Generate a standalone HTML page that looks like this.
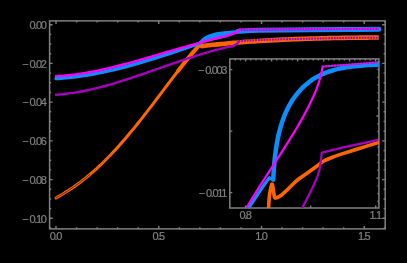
<!DOCTYPE html>
<html><head><meta charset="utf-8"><style>
html,body{margin:0;padding:0;background:#000;}
body{width:407px;height:263px;overflow:hidden;}
svg{display:block;will-change:transform;}
.lab{font-family:"Liberation Sans",sans-serif;font-size:11px;fill:#808080;stroke:#808080;stroke-width:0.2px;letter-spacing:-1.35px;word-spacing:0px;}
</style></head><body>
<svg width="407" height="263" viewBox="0 0 407 263">
<rect width="407" height="263" fill="#000"/>
<rect x="49.6" y="20.9" width="335.6" height="208.0" fill="none" stroke="#808080" stroke-width="1.5"/>
<path d="M56.00 228.90 V225.90 M56.00 20.90 V23.90 M76.55 228.90 V227.30 M76.55 20.90 V22.50 M97.10 228.90 V227.30 M97.10 20.90 V22.50 M117.65 228.90 V227.30 M117.65 20.90 V22.50 M138.20 228.90 V227.30 M138.20 20.90 V22.50 M158.75 228.90 V225.90 M158.75 20.90 V23.90 M179.30 228.90 V227.30 M179.30 20.90 V22.50 M199.85 228.90 V227.30 M199.85 20.90 V22.50 M220.40 228.90 V227.30 M220.40 20.90 V22.50 M240.95 228.90 V227.30 M240.95 20.90 V22.50 M261.50 228.90 V225.90 M261.50 20.90 V23.90 M282.05 228.90 V227.30 M282.05 20.90 V22.50 M302.60 228.90 V227.30 M302.60 20.90 V22.50 M323.15 228.90 V227.30 M323.15 20.90 V22.50 M343.70 228.90 V227.30 M343.70 20.90 V22.50 M364.25 228.90 V225.90 M364.25 20.90 V23.90 M384.80 228.90 V227.30 M384.80 20.90 V22.50 M49.60 24.70 H52.60 M385.20 24.70 H382.20 M49.60 34.38 H51.20 M385.20 34.38 H383.60 M49.60 44.06 H51.20 M385.20 44.06 H383.60 M49.60 53.74 H51.20 M385.20 53.74 H383.60 M49.60 63.42 H52.60 M385.20 63.42 H382.20 M49.60 73.10 H51.20 M385.20 73.10 H383.60 M49.60 82.78 H51.20 M385.20 82.78 H383.60 M49.60 92.46 H51.20 M385.20 92.46 H383.60 M49.60 102.14 H52.60 M385.20 102.14 H382.20 M49.60 111.82 H51.20 M385.20 111.82 H383.60 M49.60 121.50 H51.20 M385.20 121.50 H383.60 M49.60 131.18 H51.20 M385.20 131.18 H383.60 M49.60 140.86 H52.60 M385.20 140.86 H382.20 M49.60 150.54 H51.20 M385.20 150.54 H383.60 M49.60 160.22 H51.20 M385.20 160.22 H383.60 M49.60 169.90 H51.20 M385.20 169.90 H383.60 M49.60 179.58 H52.60 M385.20 179.58 H382.20 M49.60 189.26 H51.20 M385.20 189.26 H383.60 M49.60 198.94 H51.20 M385.20 198.94 H383.60 M49.60 208.62 H51.20 M385.20 208.62 H383.60 M49.60 218.30 H52.60 M385.20 218.30 H382.20 M49.60 227.98 H51.20 M385.20 227.98 H383.60" stroke="#808080" stroke-width="1.4" fill="none"/>
<text x="45.6" y="28.90" class="lab" text-anchor="end">0.00</text>
<text x="45.6" y="67.62" class="lab" text-anchor="end">−<tspan dx="2.2">0.02</tspan></text>
<text x="45.6" y="106.34" class="lab" text-anchor="end">−<tspan dx="2.2">0.04</tspan></text>
<text x="45.6" y="145.06" class="lab" text-anchor="end">−<tspan dx="2.2">0.06</tspan></text>
<text x="45.6" y="183.78" class="lab" text-anchor="end">−<tspan dx="2.2">0.08</tspan></text>
<text x="45.6" y="222.50" class="lab" text-anchor="end">−<tspan dx="2.2">0.10</tspan></text>
<text x="55.40" y="239.6" class="lab" text-anchor="middle">0.0</text>
<text x="158.15" y="239.6" class="lab" text-anchor="middle">0.5</text>
<text x="260.90" y="239.6" class="lab" text-anchor="middle">1.0</text>
<text x="363.65" y="239.6" class="lab" text-anchor="middle">1.5</text>
<g fill="none" stroke-linecap="round" stroke-linejoin="round">
<path d="M56.00 197.94 C56.62 197.59 58.46 196.56 59.70 195.85 C60.93 195.14 62.16 194.41 63.39 193.66 C64.63 192.91 65.86 192.15 67.09 191.36 C68.32 190.58 69.56 189.77 70.79 188.95 C72.02 188.12 73.25 187.28 74.49 186.41 C75.72 185.55 76.95 184.66 78.18 183.76 C79.42 182.85 80.65 181.92 81.88 180.97 C83.11 180.02 84.35 179.05 85.58 178.05 C86.81 177.06 88.04 176.04 89.28 175.01 C90.51 173.97 91.74 172.91 92.97 171.83 C94.21 170.75 95.44 169.64 96.67 168.52 C97.90 167.39 99.14 166.24 100.37 165.07 C101.60 163.90 102.83 162.71 104.07 161.50 C105.30 160.28 106.53 159.05 107.76 157.79 C109.00 156.54 110.23 155.26 111.46 153.97 C112.69 152.67 113.93 151.35 115.16 150.01 C116.39 148.68 117.62 147.32 118.86 145.94 C120.09 144.57 121.32 143.17 122.55 141.76 C123.79 140.35 125.02 138.92 126.25 137.47 C127.48 136.02 128.72 134.56 129.95 133.08 C131.18 131.60 132.41 130.10 133.65 128.59 C134.88 127.08 136.11 125.55 137.34 124.02 C138.58 122.48 139.81 120.93 141.04 119.37 C142.27 117.80 143.51 116.23 144.74 114.65 C145.97 113.06 147.20 111.47 148.44 109.87 C149.67 108.27 150.90 106.66 152.13 105.04 C153.37 103.43 154.60 101.80 155.83 100.18 C157.06 98.55 158.30 96.92 159.53 95.29 C160.76 93.66 161.99 92.03 163.23 90.40 C164.46 88.76 165.69 87.13 166.92 85.50 C168.16 83.87 169.39 82.24 170.62 80.62 C171.85 79.00 173.09 77.39 174.32 75.78 C175.55 74.17 176.78 72.57 178.02 70.98 C179.25 69.40 180.48 67.82 181.71 66.25 C182.95 64.69 184.18 63.14 185.41 61.60 C186.64 60.07 187.88 58.55 189.11 57.06 C190.34 55.56 191.57 54.08 192.81 52.63 C194.04 51.17 195.27 49.74 196.50 48.34 C197.74 46.93 199.58 44.89 200.20 44.21" stroke="#ff6600" stroke-width="3.0"/>
<path d="M178.02 70.98 C178.63 70.20 180.48 67.82 181.71 66.25 C182.95 64.69 184.18 63.14 185.41 61.60 C186.64 60.07 187.88 58.55 189.11 57.06 C190.34 55.56 191.57 54.08 192.81 52.63 C194.04 51.17 195.27 49.74 196.50 48.34 C197.74 46.93 199.58 44.89 200.20 44.21" stroke="#ff6600" stroke-width="4.0"/>
<path d="M56.00 197.94 C56.62 197.59 58.46 196.56 59.70 195.85 C60.93 195.14 62.16 194.41 63.39 193.66 C64.63 192.91 65.86 192.15 67.09 191.36 C68.32 190.58 69.56 189.77 70.79 188.95 C72.02 188.12 73.25 187.28 74.49 186.41 C75.72 185.55 76.95 184.66 78.18 183.76 C79.42 182.85 80.65 181.92 81.88 180.97 C83.11 180.02 84.35 179.05 85.58 178.05 C86.81 177.06 88.66 175.51 89.28 175.01" stroke="#000" stroke-width="0.8" stroke-dasharray="2.2 0.8" opacity="0.75"/>
<path d="M89.28 175.01 C89.89 174.48 91.74 172.91 92.97 171.83 C94.21 170.75 95.44 169.64 96.67 168.52 C97.90 167.39 99.14 166.24 100.37 165.07 C101.60 163.90 102.83 162.71 104.07 161.50 C105.30 160.28 106.53 159.05 107.76 157.79 C109.00 156.54 110.85 154.60 111.46 153.97" stroke="#000" stroke-width="0.6" stroke-dasharray="1.2 2.5" opacity="0.5"/>
<path d="M200.20 43.60 C200.50 44.00 201.70 45.59 202.00 46.00 C202.30 46.41 201.25 46.14 202.00 46.06 C202.76 45.99 205.01 45.72 206.52 45.55 C208.02 45.38 209.53 45.22 211.03 45.06 C212.54 44.90 214.05 44.74 215.55 44.59 C217.06 44.43 218.56 44.28 220.07 44.13 C221.58 43.99 223.08 43.84 224.59 43.70 C226.10 43.56 227.61 43.42 229.11 43.29 C230.62 43.15 232.13 43.02 233.64 42.89 C235.15 42.77 236.65 42.64 238.16 42.52 C239.67 42.40 241.18 42.28 242.69 42.16 C244.20 42.04 245.71 41.93 247.22 41.82 C248.72 41.71 250.23 41.60 251.74 41.49 C253.25 41.39 254.76 41.29 256.27 41.19 C257.78 41.09 259.29 40.99 260.80 40.89 C262.31 40.80 263.82 40.71 265.34 40.62 C266.85 40.53 268.36 40.44 269.87 40.36 C271.38 40.27 272.89 40.19 274.40 40.11 C275.91 40.03 277.42 39.95 278.94 39.88 C280.45 39.80 281.96 39.73 283.47 39.66 C284.98 39.59 286.49 39.52 288.01 39.46 C289.52 39.39 291.03 39.33 292.54 39.26 C294.05 39.20 295.57 39.14 297.08 39.08 C298.59 39.03 300.10 38.97 301.62 38.92 C303.13 38.86 304.64 38.81 306.16 38.76 C307.67 38.71 309.18 38.66 310.69 38.62 C312.21 38.57 313.72 38.53 315.23 38.48 C316.75 38.44 318.26 38.40 319.77 38.36 C321.29 38.32 322.80 38.28 324.31 38.25 C325.83 38.21 327.34 38.18 328.85 38.15 C330.37 38.11 331.88 38.08 333.39 38.05 C334.91 38.02 336.42 37.99 337.93 37.96 C339.45 37.94 340.96 37.91 342.47 37.89 C343.99 37.86 345.50 37.84 347.02 37.82 C348.53 37.80 350.04 37.77 351.56 37.75 C353.07 37.74 354.58 37.72 356.10 37.70 C357.61 37.68 359.12 37.67 360.64 37.65 C362.15 37.63 363.67 37.62 365.18 37.61 C366.69 37.59 368.21 37.58 369.72 37.57 C371.23 37.56 372.75 37.55 374.26 37.54 C375.77 37.53 378.04 37.51 378.80 37.51" stroke="#ff6600" stroke-width="4.6" stroke-linecap="butt"/>
<path d="M56.00 94.71 C56.85 94.65 59.38 94.48 61.07 94.32 C62.77 94.17 64.46 93.99 66.15 93.79 C67.84 93.60 69.53 93.38 71.22 93.14 C72.91 92.90 74.61 92.63 76.30 92.35 C77.99 92.08 79.68 91.77 81.37 91.46 C83.06 91.14 84.75 90.80 86.45 90.45 C88.14 90.10 89.83 89.73 91.52 89.34 C93.21 88.96 94.90 88.56 96.59 88.14 C98.29 87.73 99.98 87.30 101.67 86.85 C103.36 86.41 105.05 85.95 106.74 85.48 C108.43 85.02 110.13 84.53 111.82 84.04 C113.51 83.55 115.20 83.05 116.89 82.53 C118.58 82.02 120.27 81.50 121.97 80.96 C123.66 80.43 125.35 79.89 127.04 79.34 C128.73 78.80 130.42 78.24 132.11 77.68 C133.81 77.12 135.50 76.55 137.19 75.98 C138.88 75.40 140.57 74.82 142.26 74.24 C143.95 73.66 145.65 73.07 147.34 72.49 C149.03 71.90 150.72 71.31 152.41 70.71 C154.10 70.12 155.79 69.52 157.49 68.93 C159.18 68.33 160.87 67.74 162.56 67.14 C164.25 66.55 165.94 65.95 167.63 65.36 C169.33 64.77 171.02 64.18 172.71 63.59 C174.40 63.01 176.09 62.42 177.78 61.84 C179.47 61.26 181.17 60.69 182.86 60.12 C184.55 59.55 186.24 58.98 187.93 58.43 C189.62 57.87 191.31 57.32 193.01 56.78 C194.70 56.23 196.39 55.70 198.08 55.17 C199.77 54.65 201.46 54.13 203.15 53.62 C204.85 53.12 206.54 52.62 208.23 52.13 C209.92 51.65 211.61 51.18 213.30 50.71 C214.99 50.25 216.69 49.80 218.38 49.37 C220.07 48.94 221.76 48.51 223.45 48.11 C225.14 47.70 226.83 47.31 228.53 46.94 C230.22 46.56 232.12 46.45 233.60 45.86 C235.08 45.27 236.55 44.14 237.40 43.40 C238.25 42.66 238.48 41.73 238.70 41.40" stroke="#a800c0" stroke-width="2.4"/>
<path d="M238.50 41.10 C241.92 40.92 246.92 40.42 259.00 40.00 C271.08 39.58 296.17 38.95 311.00 38.60 C325.83 38.25 336.70 38.05 348.00 37.90 C359.30 37.75 373.67 37.73 378.80 37.70" stroke="#a800c0" stroke-width="2.1" stroke-dasharray="1.9 0.9" stroke-linecap="butt"/>
<path d="M56.00 78.46 C56.83 78.42 59.31 78.29 60.97 78.18 C62.62 78.07 64.28 77.94 65.93 77.79 C67.59 77.65 69.24 77.49 70.90 77.31 C72.55 77.14 74.21 76.95 75.86 76.74 C77.52 76.53 79.17 76.31 80.83 76.08 C82.48 75.84 84.14 75.60 85.79 75.33 C87.45 75.07 89.10 74.79 90.76 74.51 C92.41 74.22 94.07 73.91 95.72 73.60 C97.38 73.29 99.03 72.96 100.69 72.62 C102.34 72.29 104.00 71.94 105.66 71.57 C107.31 71.21 108.97 70.84 110.62 70.46 C112.28 70.08 113.93 69.69 115.59 69.28 C117.24 68.88 118.90 68.47 120.55 68.05 C122.21 67.63 123.86 67.20 125.52 66.76 C127.17 66.32 128.83 65.87 130.48 65.42 C132.14 64.96 133.79 64.50 135.45 64.03 C137.10 63.56 138.76 63.08 140.41 62.59 C142.07 62.11 143.72 61.62 145.38 61.12 C147.03 60.62 148.69 60.12 150.34 59.61 C152.00 59.10 153.66 58.59 155.31 58.07 C156.97 57.55 158.62 57.02 160.28 56.50 C161.93 55.97 163.59 55.44 165.24 54.90 C166.90 54.37 168.55 53.83 170.21 53.28 C171.86 52.74 173.52 52.20 175.17 51.65 C176.83 51.10 178.48 50.55 180.14 50.00 C181.79 49.45 183.45 48.89 185.10 48.34 C186.76 47.78 188.41 47.23 190.07 46.67 C191.72 46.12 193.38 45.56 195.03 45.00 C196.69 44.45 199.17 43.61 200.00 43.34" stroke="#0c8eff" stroke-width="3.4"/>
<path d="M200.00 42.40 C200.33 42.03 201.33 40.85 202.00 40.20 C202.67 39.55 203.17 39.10 204.00 38.50 C204.83 37.90 206.00 37.13 207.00 36.60 C208.00 36.07 208.83 35.70 210.00 35.30 C211.17 34.90 212.67 34.53 214.00 34.20 C215.33 33.87 216.33 33.58 218.00 33.30 C219.67 33.02 222.00 32.73 224.00 32.50 C226.00 32.27 227.67 32.08 230.00 31.90 C232.33 31.72 236.67 31.48 238.00 31.40 L239.50 29.80 L238.40 31.20 L236.40 32.40 L230.30 34.60 L225.00 36.40 L212.00 39.40 L200.00 42.89 Z" fill="#0c8eff" stroke="#0c8eff" stroke-width="2.4"/>
<path d="M238.00 31.40 C239.00 31.33 240.50 31.18 244.00 31.00 C247.50 30.82 247.83 30.50 259.00 30.30 C270.17 30.10 296.17 29.93 311.00 29.80 C325.83 29.67 336.70 29.58 348.00 29.50 C359.30 29.42 373.67 29.33 378.80 29.30" stroke="#0c8eff" stroke-width="5.0"/>
<path d="M56.00 76.11 C56.83 76.06 59.31 75.94 60.97 75.83 C62.62 75.72 64.28 75.59 65.93 75.44 C67.59 75.29 69.24 75.13 70.90 74.94 C72.55 74.76 74.21 74.56 75.86 74.34 C77.52 74.12 79.17 73.89 80.83 73.64 C82.48 73.39 84.14 73.12 85.79 72.85 C87.45 72.57 89.10 72.27 90.76 71.97 C92.41 71.66 94.07 71.34 95.72 71.01 C97.38 70.67 99.03 70.33 100.69 69.97 C102.34 69.62 104.00 69.25 105.66 68.87 C107.31 68.49 108.97 68.11 110.62 67.71 C112.28 67.31 113.93 66.90 115.59 66.49 C117.24 66.07 118.90 65.65 120.55 65.22 C122.21 64.79 123.86 64.35 125.52 63.90 C127.17 63.46 128.83 63.01 130.48 62.55 C132.14 62.09 133.79 61.63 135.45 61.17 C137.10 60.70 138.76 60.23 140.41 59.75 C142.07 59.28 143.72 58.80 145.38 58.32 C147.03 57.84 148.69 57.36 150.34 56.87 C152.00 56.39 153.66 55.90 155.31 55.42 C156.97 54.93 158.62 54.44 160.28 53.96 C161.93 53.47 163.59 52.98 165.24 52.50 C166.90 52.02 168.55 51.53 170.21 51.05 C171.86 50.57 173.52 50.10 175.17 49.62 C176.83 49.15 178.48 48.68 180.14 48.21 C181.79 47.74 183.45 47.28 185.10 46.83 C186.76 46.37 188.41 45.92 190.07 45.48 C191.72 45.03 193.38 44.59 195.03 44.16 C196.69 43.73 197.17 43.69 200.00 42.89 C202.83 42.10 207.83 40.48 212.00 39.40 C216.17 38.32 221.95 37.20 225.00 36.40 C228.05 35.60 228.40 35.27 230.30 34.60 C232.20 33.93 235.05 32.97 236.40 32.40 C237.75 31.83 237.88 31.63 238.40 31.20 C238.92 30.77 239.32 30.03 239.50 29.80" stroke="#ff00ff" stroke-width="2.4"/>
<path d="M239.50 29.60 C242.75 29.60 247.08 29.68 259.00 29.60 C270.92 29.52 291.03 29.22 311.00 29.10 C330.97 28.98 367.50 28.93 378.80 28.90" stroke="#7a20c0" stroke-width="2.2" stroke-linecap="butt"/>
<path d="M239.50 29.60 C242.75 29.60 247.08 29.68 259.00 29.60 C270.92 29.52 291.03 29.22 311.00 29.10 C330.97 28.98 367.50 28.93 378.80 28.90" stroke="#ff00ff" stroke-width="2.1" stroke-dasharray="1.7 1.1" stroke-linecap="butt"/>
</g>
<rect x="229.8" y="58.9" width="149.1" height="149.1" fill="#000" stroke="#808080" stroke-width="1.5"/>
<path d="M245.60 208.00 V205.50 M310.65 208.00 V205.50 M375.71 208.00 V205.50 M235.20 58.90 V60.40 M240.40 58.90 V60.40 M245.60 58.90 V61.40 M250.80 58.90 V60.40 M256.00 58.90 V60.40 M261.20 58.90 V60.40 M266.40 58.90 V60.40 M271.60 58.90 V61.40 M276.80 58.90 V60.40 M282.00 58.90 V60.40 M287.20 58.90 V60.40 M292.40 58.90 V60.40 M297.60 58.90 V61.40 M302.80 58.90 V60.40 M308.00 58.90 V60.40 M313.20 58.90 V60.40 M318.40 58.90 V60.40 M323.60 58.90 V61.40 M328.80 58.90 V60.40 M334.00 58.90 V60.40 M339.20 58.90 V60.40 M344.40 58.90 V60.40 M349.60 58.90 V61.40 M354.80 58.90 V60.40 M360.00 58.90 V60.40 M365.20 58.90 V60.40 M370.40 58.90 V60.40 M375.60 58.90 V61.40 M229.80 69.60 H232.30 M229.80 131.10 H232.30 M229.80 192.60 H232.30 M378.90 61.68 H377.40 M378.90 69.44 H377.40 M378.90 77.20 H377.40 M378.90 84.96 H377.40 M378.90 92.72 H377.40 M378.90 100.48 H377.40 M378.90 108.24 H377.40 M378.90 116.00 H376.40 M378.90 123.76 H377.40 M378.90 131.52 H377.40 M378.90 139.28 H377.40 M378.90 147.04 H377.40 M378.90 154.80 H377.40 M378.90 162.56 H377.40 M378.90 170.32 H377.40 M378.90 178.08 H376.40 M378.90 185.84 H377.40 M378.90 193.60 H377.40 M378.90 201.36 H377.40" stroke="#808080" stroke-width="1.4" fill="none"/>
<text x="226.0" y="73.80" class="lab" text-anchor="end">−<tspan dx="2.2">0.003</tspan></text>
<text x="226.0" y="196.80" class="lab" text-anchor="end">−<tspan dx="2.2">0.011</tspan></text>
<text x="245.00" y="219.4" class="lab" text-anchor="middle">0.8</text>
<text x="375.21" y="219.4" class="lab" text-anchor="middle">1.1</text>
<svg x="230.3" y="59.4" width="148.1" height="148.1" viewBox="230.3 59.4 148.1 148.1" overflow="hidden">
<g fill="none" stroke-linecap="round" stroke-linejoin="round">
<path d="M268.30 210.00 C268.35 209.58 268.42 209.83 268.60 207.50 C268.78 205.17 268.98 199.45 269.40 196.00 C269.82 192.55 270.62 188.77 271.10 186.80 C271.58 184.83 271.92 183.62 272.30 184.20 C272.68 184.78 273.03 188.13 273.40 190.30 C273.77 192.47 274.12 195.92 274.50 197.20 C274.88 198.48 274.75 198.20 275.70 198.00 C276.65 197.80 278.15 197.48 280.20 196.00 C282.25 194.52 285.13 191.77 288.00 189.10 C290.87 186.43 293.93 182.85 297.40 180.00 C300.87 177.15 305.70 174.20 308.80 172.00 C311.90 169.80 313.57 168.58 316.00 166.80 C318.43 165.02 320.27 163.05 323.40 161.30 C326.53 159.55 331.70 157.53 334.80 156.30 C337.90 155.07 337.80 155.25 342.00 153.90 C346.20 152.55 353.97 150.08 360.00 148.20 C366.03 146.32 374.70 143.63 378.20 142.60 C381.70 141.57 380.53 142.10 381.00 142.00" stroke="#ff6600" stroke-width="3.6"/>
<path d="M301.50 209.00 C301.68 208.68 301.28 209.60 302.60 207.10 C303.92 204.60 307.93 196.85 309.40 194.00 C310.87 191.15 310.17 192.67 311.40 190.00 C312.63 187.33 315.47 181.33 316.80 178.00 C318.13 174.67 318.75 172.67 319.40 170.00 C320.05 167.33 320.38 164.17 320.70 162.00 C321.02 159.83 321.13 158.53 321.30 157.00 C321.47 155.47 321.63 153.50 321.70 152.80 L321.70 152.80 C325.08 151.93 335.62 149.10 342.00 147.60 C348.38 146.10 353.97 145.08 360.00 143.80 C366.03 142.52 375.17 140.55 378.20 139.90" stroke="#a800c0" stroke-width="2.2" stroke-linejoin="miter" stroke-linecap="butt"/>
<path d="M248.00 209.00 C249.75 206.37 255.52 197.65 258.50 193.20 C261.48 188.75 264.07 184.87 265.90 182.30 C267.73 179.73 268.90 178.55 269.50 177.80" stroke="#0c8eff" stroke-width="3.2"/>
<path d="M268.50 178.60 L272.80 179.00" stroke="#0c8eff" stroke-width="2.6"/>
<path d="M273.20 179.65 C273.22 179.17 273.30 177.76 273.35 176.80 C273.41 175.84 273.47 174.88 273.53 173.91 C273.59 172.94 273.65 171.97 273.72 170.99 C273.79 170.01 273.86 169.02 273.93 168.03 C274.01 167.04 274.09 166.04 274.17 165.04 C274.26 164.05 274.35 163.04 274.44 162.04 C274.54 161.03 274.64 160.02 274.74 159.01 C274.85 157.99 274.96 156.98 275.08 155.96 C275.20 154.94 275.32 153.92 275.45 152.90 C275.58 151.88 275.72 150.86 275.86 149.84 C276.01 148.81 276.16 147.79 276.32 146.77 C276.48 145.75 276.65 144.72 276.82 143.70 C277.00 142.68 277.18 141.66 277.38 140.64 C277.57 139.62 277.77 138.60 277.99 137.58 C278.20 136.56 278.42 135.55 278.65 134.54 C278.88 133.53 279.12 132.52 279.38 131.51 C279.63 130.51 279.89 129.50 280.16 128.51 C280.44 127.51 280.72 126.51 281.02 125.53 C281.31 124.54 281.62 123.55 281.94 122.58 C282.26 121.60 282.59 120.62 282.93 119.66 C283.28 118.69 283.63 117.73 284.00 116.78 C284.37 115.82 284.76 114.88 285.15 113.94 C285.55 113.00 285.96 112.07 286.38 111.14 C286.81 110.22 287.24 109.30 287.70 108.40 C288.15 107.49 288.62 106.60 289.10 105.71 C289.58 104.82 290.08 103.94 290.59 103.07 C291.11 102.21 291.64 101.35 292.18 100.50 C292.73 99.66 293.29 98.82 293.87 98.00 C294.45 97.17 295.04 96.36 295.65 95.56 C296.26 94.76 296.88 93.98 297.52 93.20 C298.16 92.43 298.82 91.67 299.49 90.92 C300.16 90.18 300.84 89.45 301.54 88.73 C302.24 88.01 302.96 87.31 303.69 86.63 C304.42 85.94 305.16 85.27 305.92 84.61 C306.68 83.96 307.45 83.32 308.23 82.70 C309.02 82.08 309.82 81.48 310.63 80.90 C311.44 80.31 312.27 79.74 313.10 79.20 C313.94 78.65 314.79 78.12 315.66 77.61 C316.52 77.10 317.40 76.61 318.29 76.14 C319.18 75.67 320.08 75.22 320.99 74.79 C321.91 74.36 322.83 73.95 323.76 73.56 C324.70 73.17 325.64 72.79 326.60 72.44 C327.55 72.08 328.51 71.74 329.48 71.41 C330.45 71.09 331.43 70.78 332.42 70.49 C333.40 70.20 334.40 69.92 335.39 69.66 C336.39 69.40 337.40 69.15 338.41 68.91 C339.42 68.68 340.43 68.46 341.45 68.25 C342.47 68.04 343.49 67.85 344.52 67.67 C345.54 67.48 346.57 67.31 347.60 67.15 C348.63 66.99 349.66 66.84 350.69 66.70 C351.72 66.56 352.76 66.43 353.79 66.31 C354.82 66.19 355.86 66.08 356.89 65.98 C357.92 65.87 358.95 65.78 359.98 65.69 C361.01 65.60 362.03 65.52 363.06 65.45 C364.08 65.37 365.10 65.31 366.11 65.24 C367.13 65.18 368.14 65.12 369.14 65.07 C370.15 65.02 371.15 64.97 372.14 64.93 C373.13 64.88 374.12 64.84 375.10 64.80 C376.08 64.77 377.53 64.71 378.01 64.70" stroke="#0c8eff" stroke-width="4.5"/>
<path d="M245.58 209.51 C245.78 209.17 246.36 208.15 246.76 207.47 C247.15 206.79 247.55 206.12 247.94 205.44 C248.34 204.76 248.74 204.08 249.14 203.41 C249.54 202.73 249.94 202.06 250.35 201.38 C250.75 200.71 251.16 200.03 251.56 199.36 C251.97 198.69 252.38 198.02 252.79 197.34 C253.20 196.67 253.61 196.00 254.02 195.33 C254.44 194.66 254.85 193.99 255.27 193.32 C255.68 192.65 256.10 191.98 256.51 191.31 C256.93 190.64 257.35 189.97 257.77 189.31 C258.19 188.64 258.61 187.97 259.03 187.31 C259.45 186.64 259.87 185.97 260.30 185.31 C260.72 184.64 261.14 183.97 261.57 183.31 C261.99 182.64 262.42 181.98 262.84 181.31 C263.27 180.65 263.70 179.98 264.13 179.32 C264.55 178.66 264.98 177.99 265.41 177.33 C265.84 176.66 266.27 176.00 266.70 175.34 C267.13 174.67 267.56 174.01 267.99 173.35 C268.42 172.68 268.85 172.02 269.28 171.36 C269.71 170.70 270.14 170.03 270.57 169.37 C271.00 168.71 271.43 168.04 271.86 167.38 C272.29 166.72 272.73 166.06 273.16 165.39 C273.59 164.73 274.02 164.07 274.45 163.40 C274.88 162.74 275.31 162.08 275.74 161.41 C276.18 160.75 276.61 160.09 277.04 159.42 C277.47 158.76 277.90 158.10 278.33 157.43 C278.76 156.77 279.19 156.10 279.62 155.44 C280.04 154.77 280.47 154.11 280.90 153.44 C281.33 152.78 281.76 152.11 282.18 151.45 C282.61 150.78 283.04 150.12 283.46 149.45 C283.89 148.78 284.31 148.12 284.74 147.45 C285.16 146.78 285.58 146.11 286.01 145.45 C286.43 144.78 286.85 144.11 287.27 143.44 C287.69 142.77 288.11 142.10 288.53 141.43 C288.95 140.76 289.36 140.09 289.78 139.42 C290.20 138.75 290.61 138.07 291.02 137.40 C291.44 136.73 291.85 136.05 292.26 135.38 C292.67 134.71 293.08 134.03 293.49 133.36 C293.90 132.68 294.31 132.00 294.71 131.33 C295.12 130.65 295.52 129.97 295.92 129.29 C296.33 128.62 296.73 127.94 297.13 127.26 C297.53 126.58 297.92 125.89 298.32 125.21 C298.71 124.53 299.11 123.85 299.50 123.16 C299.89 122.48 300.28 121.80 300.67 121.11 C301.06 120.42 301.45 119.74 301.83 119.05 C302.21 118.36 302.60 117.67 302.98 116.98 C303.36 116.29 303.74 115.60 304.11 114.91 C304.49 114.22 304.86 113.52 305.23 112.83 C305.60 112.14 305.97 111.44 306.34 110.74 C306.71 110.05 307.07 109.35 307.43 108.65 C307.79 107.95 308.15 107.25 308.51 106.55 C308.87 105.85 309.22 105.14 309.57 104.44 C309.93 103.74 310.28 103.03 310.62 102.32 C310.97 101.62 311.31 100.91 311.65 100.20 C311.98 99.49 312.32 98.77 312.65 98.06 C312.98 97.35 313.30 96.63 313.62 95.91 C313.94 95.19 314.26 94.47 314.57 93.75 C314.88 93.03 315.18 92.31 315.48 91.58 C315.78 90.85 316.07 90.13 316.36 89.39 C316.65 88.66 316.93 87.93 317.20 87.19 C317.47 86.46 317.74 85.72 318.00 84.98 C318.25 84.24 318.51 83.49 318.75 82.74 C318.99 82.00 319.23 81.25 319.45 80.49 C319.68 79.74 319.90 78.99 320.11 78.23 C320.31 77.47 320.52 76.71 320.71 75.94 C320.90 75.17 321.08 74.40 321.25 73.63 C321.42 72.86 321.58 72.08 321.73 71.30 C321.88 70.52 322.02 69.74 322.15 68.95 C322.28 68.17 322.44 66.98 322.50 66.58" stroke="#ff00ff" stroke-width="2.2"/>
<path d="M322.50 66.60 C324.58 66.43 330.42 65.95 335.00 65.60 C339.58 65.25 345.00 64.88 350.00 64.50 C355.00 64.12 360.33 63.67 365.00 63.30 C369.67 62.93 375.83 62.47 378.00 62.30" stroke="#6040c0" stroke-width="1.6" stroke-linecap="butt"/>
<path d="M322.50 66.60 C324.58 66.43 330.42 65.95 335.00 65.60 C339.58 65.25 345.00 64.88 350.00 64.50 C355.00 64.12 360.33 63.67 365.00 63.30 C369.67 62.93 375.83 62.47 378.00 62.30" stroke="#ff00ff" stroke-width="2.1" stroke-dasharray="1.8 1.1" stroke-linecap="butt"/>
</g></svg>
</svg>
</body></html>
